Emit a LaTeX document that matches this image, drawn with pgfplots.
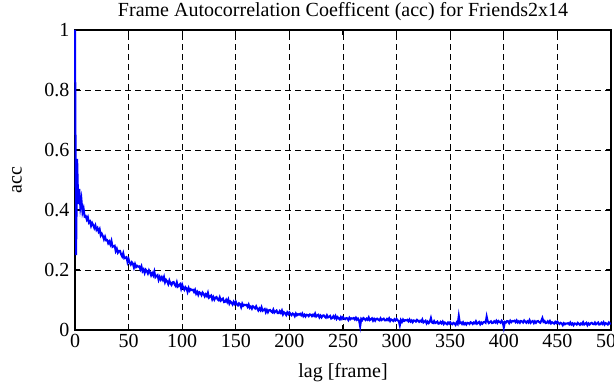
\documentclass[border=0pt]{standalone}
\usepackage{fontspec}
\setmainfont{Liberation Serif}
\usepackage{pgfplots}
\pgfplotsset{compat=1.18}
\usepackage{pgfplotstable}
\pgfplotstableread{
acc
1.0
0.25
0.57
0.42
0.47
0.41
0.435
0.392
0.405
0.378
0.380
0.368
0.376
0.358
0.362
0.347
0.357
0.350
0.340
0.349
0.334
0.340
0.328
0.336
0.315
0.321
0.313
0.302
0.311
0.299
0.300
0.289
0.295
0.285
0.297
0.277
0.279
0.281
0.263
0.271
0.258
0.264
0.264
0.252
0.245
0.256
0.239
0.241
0.243
0.226
0.236
0.224
0.218
0.226
0.221
0.208
0.220
0.210
0.214
0.211
0.212
0.202
0.212
0.196
0.202
0.190
0.201
0.196
0.188
0.199
0.192
0.182
0.190
0.182
0.195
0.176
0.180
0.183
0.167
0.177
0.168
0.176
0.167
0.177
0.159
0.167
0.162
0.153
0.165
0.155
0.150
0.159
0.160
0.151
0.146
0.159
0.145
0.149
0.153
0.138
0.151
0.140
0.134
0.143
0.139
0.127
0.140
0.131
0.136
0.133
0.134
0.127
0.134
0.121
0.127
0.117
0.126
0.123
0.116
0.125
0.120
0.112
0.119
0.113
0.124
0.108
0.112
0.115
0.102
0.110
0.101
0.108
0.110
0.102
0.099
0.109
0.098
0.102
0.105
0.093
0.094
0.101
0.093
0.102
0.088
0.095
0.091
0.085
0.094
0.087
0.094
0.085
0.082
0.089
0.086
0.076
0.088
0.081
0.084
0.083
0.084
0.077
0.085
0.074
0.078
0.071
0.079
0.076
0.072
0.079
0.071
0.065
0.072
0.066
0.076
0.064
0.067
0.070
0.059
0.067
0.059
0.066
0.067
0.062
0.059
0.068
0.058
0.062
0.065
0.056
0.056
0.063
0.057
0.065
0.052
0.059
0.056
0.050
0.059
0.053
0.059
0.053
0.049
0.055
0.053
0.046
0.055
0.049
0.053
0.051
0.054
0.049
0.055
0.046
0.051
0.045
0.051
0.050
0.046
0.052
0.051
0.046
0.051
0.047
0.055
0.045
0.049
0.051
0.042
0.048
0.042
0.048
0.049
0.044
0.041
0.049
0.042
0.044
0.047
0.038
0.040
0.046
0.040
0.047
0.037
0.043
0.039
0.035
0.043
0.037
0.043
0.038
0.036
0.040
0.039
0.033
0.041
0.036
0.039
0.038
0.040
0.035
0.041
0.034
0.038
0.032
0.012
0.037
0.033
0.040
0.037
0.033
0.038
0.034
0.042
0.033
0.036
0.039
0.031
0.037
0.031
0.037
0.038
0.034
0.032
0.039
0.033
0.036
0.038
0.032
0.032
0.037
0.033
0.039
0.030
0.035
0.033
0.030
0.036
0.032
0.037
0.032
0.030
0.015
0.033
0.027
0.035
0.030
0.033
0.032
0.034
0.029
0.035
0.028
0.032
0.026
0.032
0.031
0.028
0.034
0.031
0.027
0.031
0.028
0.035
0.025
0.028
0.031
0.022
0.028
0.023
0.028
0.040
0.025
0.023
0.030
0.023
0.025
0.028
0.021
0.022
0.027
0.022
0.028
0.020
0.025
0.022
0.019
0.025
0.021
0.026
0.021
0.019
0.024
0.022
0.017
0.025
0.020
0.047
0.023
0.025
0.020
0.026
0.019
0.023
0.018
0.024
0.023
0.020
0.026
0.024
0.020
0.025
0.022
0.029
0.021
0.024
0.027
0.019
0.025
0.021
0.026
0.027
0.024
0.045
0.029
0.023
0.026
0.029
0.023
0.024
0.029
0.025
0.031
0.024
0.030
0.027
0.024
0.031
0.026
0.008
0.027
0.025
0.030
0.029
0.023
0.031
0.026
0.030
0.029
0.031
0.026
0.032
0.025
0.029
0.024
0.030
0.029
0.025
0.032
0.028
0.024
0.029
0.025
0.033
0.024
0.028
0.030
0.023
0.029
0.024
0.029
0.030
0.026
0.024
0.031
0.040
0.027
0.030
0.023
0.024
0.029
0.024
0.030
0.022
0.026
0.024
0.021
0.027
0.023
0.028
0.023
0.020
0.024
0.022
0.016
0.023
0.019
0.022
0.021
0.023
0.019
0.025
0.018
0.022
0.016
0.022
0.021
0.018
0.024
0.021
0.017
0.022
0.019
0.026
0.018
0.021
0.024
0.016
0.022
0.018
0.022
0.024
0.020
0.019
0.025
0.019
0.022
0.025
0.018
0.019
0.024
0.020
0.026
0.018
0.023
0.021
0.018
0.025
0.021
0.022
}\acctable
\begin{document}
\begin{tikzpicture}[font=\fontsize{20}{24}\selectfont]
\begin{axis}[
  name=ax,
  scale only axis,
  width=536pt, height=300pt,
  xmin=0, xmax=500, ymin=0, ymax=1,
  xtick={0,50,100,150,200,250,300,350,400,450,500},
  ytick={0,0.2,0.4,0.6,0.8,1},
  /pgf/number format/assume math mode=true,
  tick label style={font=\fontsize{20}{24}\selectfont, black},
  xticklabel style={yshift=-1pt},
  yticklabel style={xshift=-2pt},
  every axis x label/.style={at={(axis description cs:0.5,0)}, anchor=center, yshift=-43pt, font=\fontsize{20}{24}\selectfont},
  every axis y label/.style={at={(axis description cs:-0.108,0.5)}, rotate=90, anchor=center, font=\fontsize{20}{24}\selectfont},
  every axis title/.style={at={(axis description cs:0.5,1)}, anchor=center, yshift=18pt, font=\fontsize{20}{24}\selectfont},
  grid=major,
  grid style={black, line width=0.7pt, dash pattern=on 6pt off 4pt},
  axis line style={black, line width=1.3pt},
  major tick style={black, line width=1.3pt},
  major tick length=5pt,
  tick align=inside,
  clip=false,
  title={Frame Autocorrelation Coefficent (acc) for Friends2x14},
  xlabel={lag [frame]},
  ylabel={acc},
]
\addplot[blue, line width=2pt, mark=none] table[x expr=\coordindex, y=acc] {\acctable};
\end{axis}
\pgfresetboundingbox
\path[use as bounding box] ([shift={(-75pt,-55pt)}]ax.south west) rectangle ([shift={(3pt,30pt)}]ax.north east);
\end{tikzpicture}
\end{document}
